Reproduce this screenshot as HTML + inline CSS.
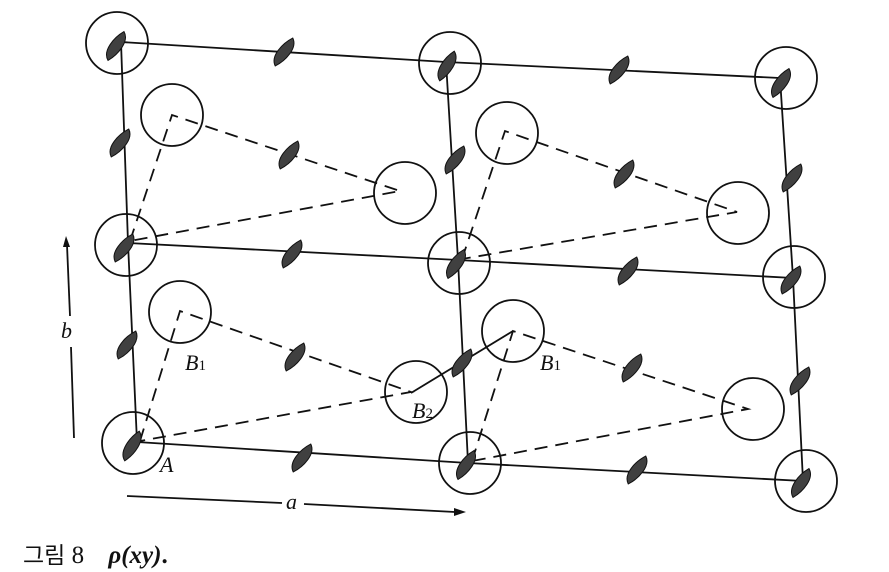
<!DOCTYPE html>
<html><head><meta charset="utf-8"><style>
html,body{margin:0;padding:0;background:#fff;}
svg{display:block}
</style></head><body>
<svg width="889" height="572" viewBox="0 0 889 572" xmlns="http://www.w3.org/2000/svg">
<defs>
<path id="d" d="M4,-16 C12,-8 4,8 -4,16 C-12,8 -4,-8 4,-16 Z" fill="#404040" stroke="#111" stroke-width="1"/>
</defs>
<g fill="none" stroke="#111" stroke-width="1.8">
<circle cx="117" cy="43" r="31"/>
<circle cx="450" cy="63" r="31"/>
<circle cx="786" cy="78" r="31"/>
<circle cx="126" cy="245" r="31"/>
<circle cx="459" cy="263" r="31"/>
<circle cx="794" cy="277" r="31"/>
<circle cx="133" cy="443" r="31"/>
<circle cx="470" cy="463" r="31"/>
<circle cx="806" cy="481" r="31"/>
<circle cx="172" cy="115" r="31"/>
<circle cx="405" cy="193" r="31"/>
<circle cx="507" cy="133" r="31"/>
<circle cx="738" cy="213" r="31"/>
<circle cx="180" cy="312" r="31"/>
<circle cx="416" cy="392" r="31"/>
<circle cx="513" cy="331" r="31"/>
<circle cx="753" cy="409" r="31"/>
<polyline points="121,42 446,62 780,78"/>
<polyline points="128,243 458,260 793,278"/>
<polyline points="137,442 468,463 803,481"/>
<polyline points="121,42 128,243 137,442"/>
<polyline points="446,62 458,260 468,463"/>
<polyline points="780,78 793,278 803,481"/>
<line x1="411" y1="393" x2="513" y2="331"/>
<line x1="74" y1="438" x2="71" y2="347"/>
<line x1="70" y1="316" x2="67" y2="245"/>
<line x1="127" y1="496" x2="282" y2="503"/>
<line x1="304" y1="504" x2="455" y2="512"/>
</g>
<polygon points="66,236 63,247 70,247" fill="#111"/>
<polygon points="466,512 454,508 454,516" fill="#111"/>
<g fill="none" stroke="#111" stroke-width="1.8" stroke-dasharray="13,8">
<polyline points="130,241 172,115 400,191 130,241"/>
<polyline points="462,259 505,131 737,212 462,259"/>
<polyline points="140,441 180,311 411,392 140,441"/>
<polyline points="472,461 513,331 748,409 472,461"/>
</g>
<g>
<use href="#d" transform="translate(116,46) rotate(15)"/>
<use href="#d" transform="translate(447,66) rotate(12)"/>
<use href="#d" transform="translate(781,83) rotate(15)"/>
<use href="#d" transform="translate(124,248) rotate(18)"/>
<use href="#d" transform="translate(456,264) rotate(15)"/>
<use href="#d" transform="translate(791,280) rotate(18)"/>
<use href="#d" transform="translate(132,446) rotate(12)"/>
<use href="#d" transform="translate(466,465) rotate(15)"/>
<use href="#d" transform="translate(801,483) rotate(15)"/>
<use href="#d" transform="translate(284,52) rotate(18)"/>
<use href="#d" transform="translate(619,70) rotate(18)"/>
<use href="#d" transform="translate(292,254) rotate(18)"/>
<use href="#d" transform="translate(628,271) rotate(18)"/>
<use href="#d" transform="translate(302,458) rotate(18)"/>
<use href="#d" transform="translate(637,470) rotate(18)"/>
<use href="#d" transform="translate(120,143) rotate(18)"/>
<use href="#d" transform="translate(127,345) rotate(18)"/>
<use href="#d" transform="translate(455,160) rotate(18)"/>
<use href="#d" transform="translate(462,363) rotate(18)"/>
<use href="#d" transform="translate(792,178) rotate(18)"/>
<use href="#d" transform="translate(800,381) rotate(18)"/>
<use href="#d" transform="translate(289,155) rotate(18)"/>
<use href="#d" transform="translate(624,174) rotate(18)"/>
<use href="#d" transform="translate(295,357) rotate(18)"/>
<use href="#d" transform="translate(632,368) rotate(18)"/>
</g>
<g font-family="Liberation Serif, serif" font-style="italic" font-size="22" fill="#111">
<text x="185" y="370">B<tspan font-size="15" font-style="normal">1</tspan></text>
<text x="412" y="418">B<tspan font-size="15" font-style="normal">2</tspan></text>
<text x="540" y="370">B<tspan font-size="15" font-style="normal">1</tspan></text>
<text x="160" y="472">A</text>
<text x="61" y="338">b</text>
<text x="286" y="509">a</text>
</g>
<text x="23" y="563" font-family="Liberation Serif, 'Noto Serif CJK SC', serif" font-size="25" fill="#111"><tspan font-family="'Noto Sans CJK KR', sans-serif" font-size="23">그림</tspan> 8 <tspan dx="18" font-weight="bold" font-style="italic">ρ(xy)</tspan><tspan font-weight="bold">.</tspan></text>
</svg>
</body></html>
